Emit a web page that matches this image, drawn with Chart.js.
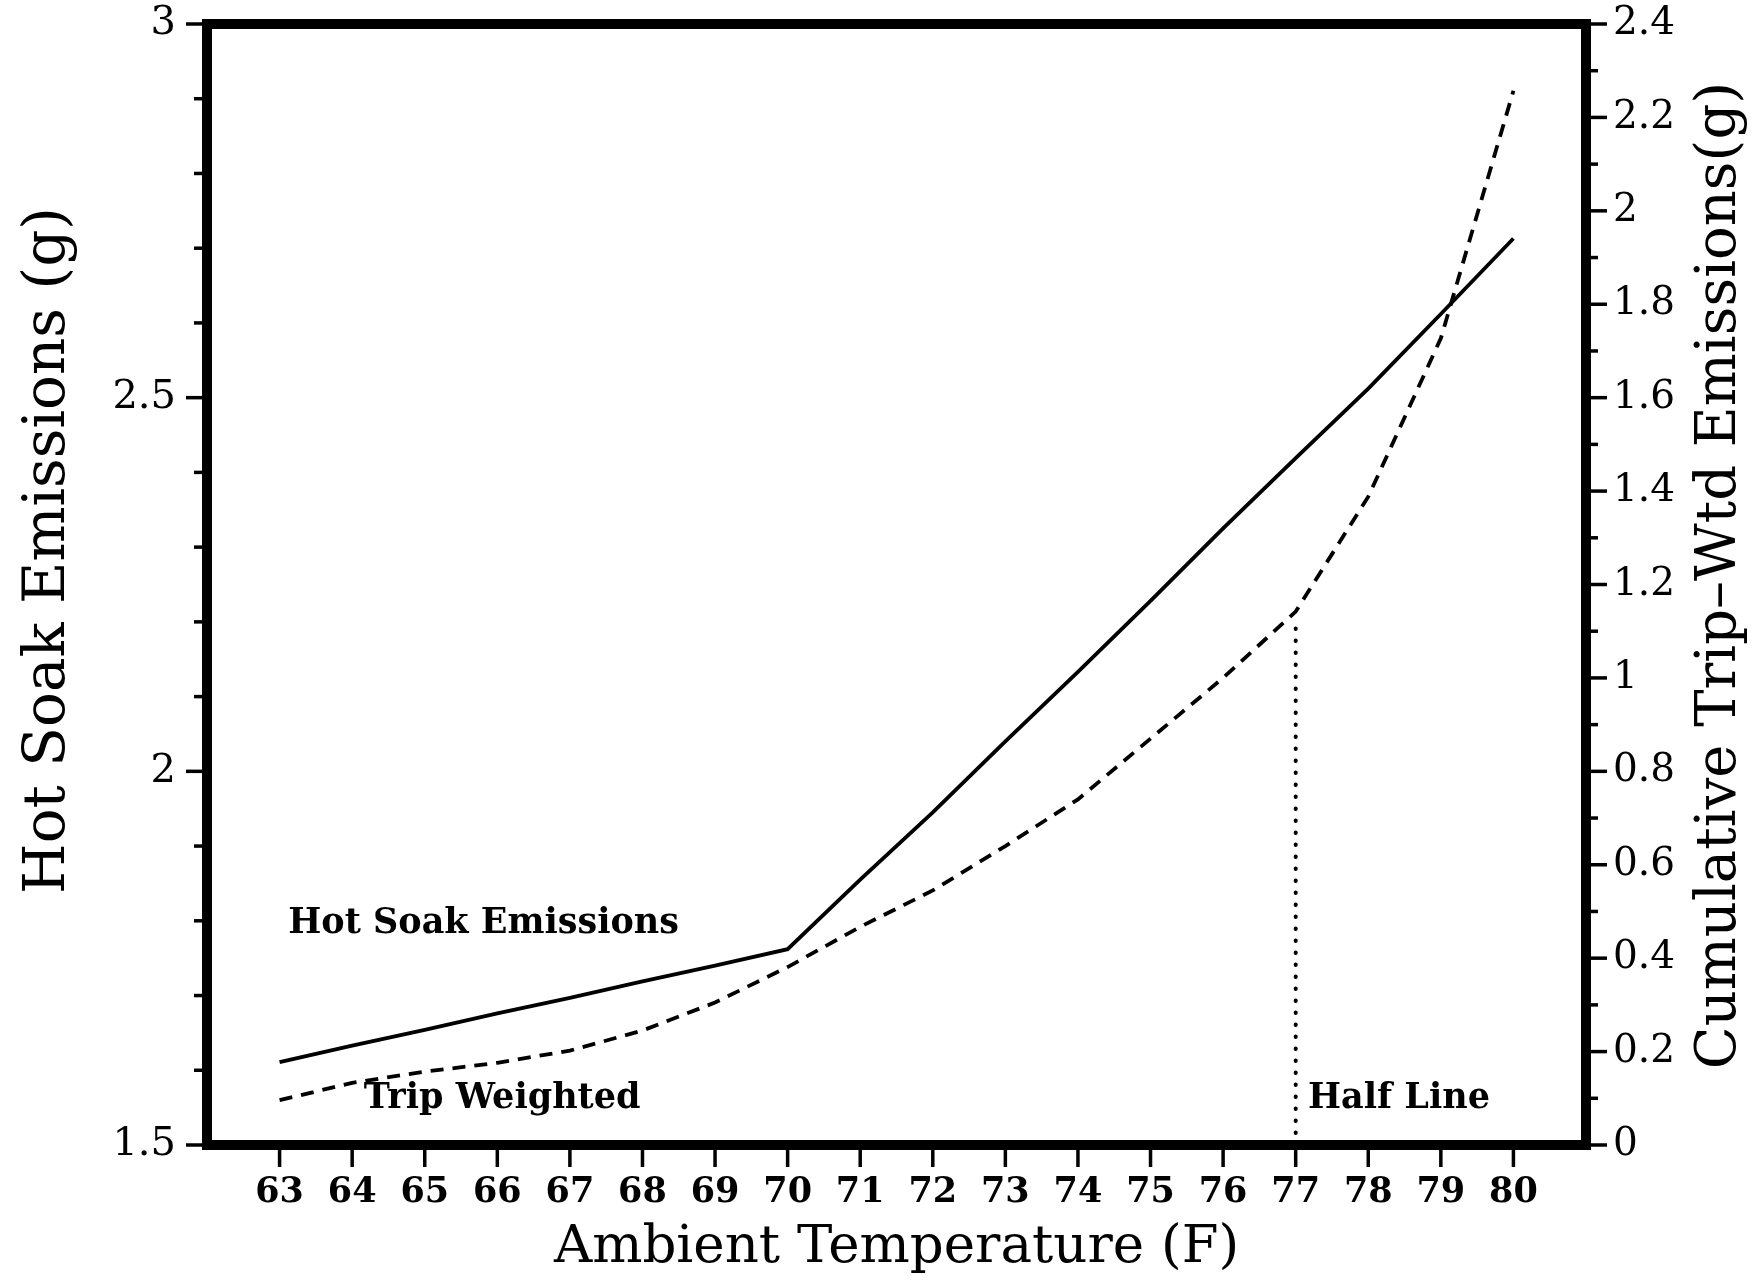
<!DOCTYPE html>
<html>
<head>
<meta charset="utf-8">
<script src="https://cdn.jsdelivr.net/npm/chart.js@4.4.1/dist/chart.umd.min.js"></script>
<style>
  html, body { margin: 0; padding: 0; background: #ffffff; }
  #wrap { width: 1760px; height: 1280px; }
</style>
</head>
<body>
<div id="wrap"><canvas id="c" width="1760" height="1280"></canvas></div>
<script>
// ---- data ----
const temperatures = [63, 64, 65, 66, 67, 68, 69, 70, 71, 72, 73, 74, 75, 76, 77, 78, 79, 80];
const hotSoakEmissions = [1.611, 1.633, 1.654, 1.676, 1.697, 1.719, 1.740, 1.762, 1.855, 1.945, 2.040, 2.133, 2.228, 2.325, 2.419, 2.512, 2.612, 2.713];
const tripWeightedCumulative = [0.096, 0.133, 0.157, 0.176, 0.202, 0.245, 0.305, 0.381, 0.467, 0.545, 0.640, 0.740, 0.870, 1.000, 1.142, 1.388, 1.727, 2.257];
const halfLineTemp = [77, 77];
const halfLineValue = [0, 1.13];

const xTickLabels = ['63','64','65','66','67','68','69','70','71','72','73','74','75','76','77','78','79','80'];
const leftTickLabels = ['1.5', '2', '2.5', '3'];
const rightTickLabels = ['0','0.2','0.4','0.6','0.8','1','1.2','1.4','1.6','1.8','2','2.2','2.4'];

const xTitle = 'Ambient Temperature (F)';
const leftTitle = 'Hot Soak Emissions (g)';
const rightTitle = 'Cumulative Trip\u2013Wtd Emissions(g)';

const annotations = [
  { text: 'Hot Soak Emissions', x: 63.12, y: 1.784 },
  { text: 'Trip Weighted',      x: 64.16, y: 1.550 },
  { text: 'Half Line',          x: 77.17, y: 1.550 }
];

// ---- build datasets from the arrays ----
const toPoints = (xs, ys) => xs.map((x, i) => ({ x: x, y: ys[i] }));

const FONT = "'DejaVu Serif', serif";

const framePlugin = {
  id: 'frame',
  afterDraw(chart) {
    const ctx = chart.ctx;
    const a = chart.chartArea;
    const xs = chart.scales.x, yl = chart.scales.y, yr = chart.scales.y2;
    ctx.save();
    ctx.strokeStyle = '#000';
    ctx.lineCap = 'butt';
    // ticks
    ctx.lineWidth = 3.5;
    xs.ticks.forEach(t => {
      if (t.value < 63 || t.value > 80) return;
      const px = xs.getPixelForValue(t.value);
      ctx.beginPath(); ctx.moveTo(px, a.bottom); ctx.lineTo(px, a.bottom + 22); ctx.stroke();
    });
    yl.ticks.forEach(t => {
      const n = Math.round(t.value * 10);
      const len = (n % 5 === 0) ? 21 : 13;
      const py = yl.getPixelForValue(t.value);
      ctx.beginPath(); ctx.moveTo(a.left, py); ctx.lineTo(a.left - len, py); ctx.stroke();
    });
    yr.ticks.forEach(t => {
      const n = Math.round(t.value * 10);
      const len = (n % 2 === 0) ? 21 : 12;
      const py = yr.getPixelForValue(t.value);
      ctx.beginPath(); ctx.moveTo(a.right, py); ctx.lineTo(a.right + len, py); ctx.stroke();
    });
    // thick frame
    ctx.lineWidth = 10;
    ctx.lineJoin = 'miter';
    ctx.strokeRect(a.left, a.top, a.right - a.left, a.bottom - a.top);

    // annotations
    ctx.fillStyle = '#000';
    ctx.font = "bold 35px " + FONT;
    ctx.textAlign = 'left';
    ctx.textBaseline = 'alphabetic';
    annotations.forEach(an => {
      ctx.fillText(an.text, xs.getPixelForValue(an.x), yl.getPixelForValue(an.y));
    });

    // rotated y titles (both read bottom-to-top)
    ctx.textAlign = 'center';
    ctx.textBaseline = 'middle';
    const midY = (a.top + a.bottom) / 2;
    ctx.save();
    ctx.font = "58px " + FONT;
    ctx.translate(49, midY - 34);
    ctx.rotate(-Math.PI / 2);
    ctx.fillText(leftTitle, 0, 0);
    ctx.restore();
    ctx.save();
    ctx.font = "56px " + FONT;
    ctx.translate(1720, midY - 9);
    ctx.rotate(-Math.PI / 2);
    ctx.fillText(rightTitle, 0, 0);
    ctx.restore();
    ctx.restore();
  }
};

const noScalePadding = (s) => { s.paddingTop = 0; s.paddingBottom = 0; s.paddingLeft = 0; s.paddingRight = 0; };

new Chart(document.getElementById('c'), {
  type: 'line',
  data: {
    datasets: [
      {
        label: 'Hot Soak Emissions',
        data: toPoints(temperatures, hotSoakEmissions),
        yAxisID: 'y',
        borderColor: '#000',
        borderWidth: 3.8,
        pointRadius: 0,
        tension: 0,
        fill: false
      },
      {
        label: 'Trip Weighted',
        data: toPoints(temperatures, tripWeightedCumulative),
        yAxisID: 'y2',
        borderColor: '#000',
        borderWidth: 3.8,
        borderDash: [13, 9],
        pointRadius: 0,
        tension: 0,
        fill: false
      },
      {
        label: 'Half Line',
        data: toPoints(halfLineTemp, halfLineValue),
        yAxisID: 'y2',
        borderColor: '#000',
        borderWidth: 4,
        borderDash: [0.5, 11.5],
        borderCapStyle: 'round',
        pointRadius: 0,
        fill: false
      }
    ]
  },
  options: {
    responsive: false,
    animation: false,
    events: [],
    layout: { padding: { top: 24, left: 0, right: 0, bottom: 0 } },
    plugins: { legend: { display: false }, tooltip: { enabled: false } },
    scales: {
      x: {
        type: 'linear',
        position: 'bottom',
        min: 62,
        max: 81,
        grid: { display: false, drawTicks: false },
        border: { display: false },
        ticks: {
          stepSize: 1,
          autoSkip: false,
          maxRotation: 0,
          padding: 27,
          color: '#000',
          font: { family: FONT, size: 35, weight: 'bold' },
          callback: (v) => {
            const i = temperatures.indexOf(Math.round(v));
            return i >= 0 ? xTickLabels[i] : '';
          }
        },
        title: {
          display: true,
          text: xTitle,
          color: '#000',
          font: { family: FONT, size: 53 },
          padding: { top: 0, bottom: 0 }
        },
        afterFit: (s) => { s.height = 135; noScalePadding(s); }
      },
      y: {
        type: 'linear',
        position: 'left',
        min: 1.5,
        max: 3,
        grid: { display: false, drawTicks: false },
        border: { display: false },
        ticks: {
          stepSize: 0.1,
          autoSkip: false,
          padding: 31,
          color: '#000',
          font: { family: FONT, size: 40 },
          callback: (v) => {
            const n = Math.round(v * 10);
            if (n % 5 !== 0) return '';
            return leftTickLabels[(n - 15) / 5];
          }
        },
        afterFit: (s) => { s.width = 207; noScalePadding(s); }
      },
      y2: {
        type: 'linear',
        position: 'right',
        min: 0,
        max: 2.4,
        grid: { display: false, drawTicks: false },
        border: { display: false },
        ticks: {
          stepSize: 0.1,
          autoSkip: false,
          padding: 27,
          color: '#000',
          font: { family: FONT, size: 39 },
          callback: (v) => {
            const n = Math.round(v * 10);
            if (n % 2 !== 0) return '';
            return rightTickLabels[n / 2];
          }
        },
        afterFit: (s) => { s.width = 174; noScalePadding(s); }
      }
    }
  },
  plugins: [framePlugin]
});
</script>
</body>
</html>
